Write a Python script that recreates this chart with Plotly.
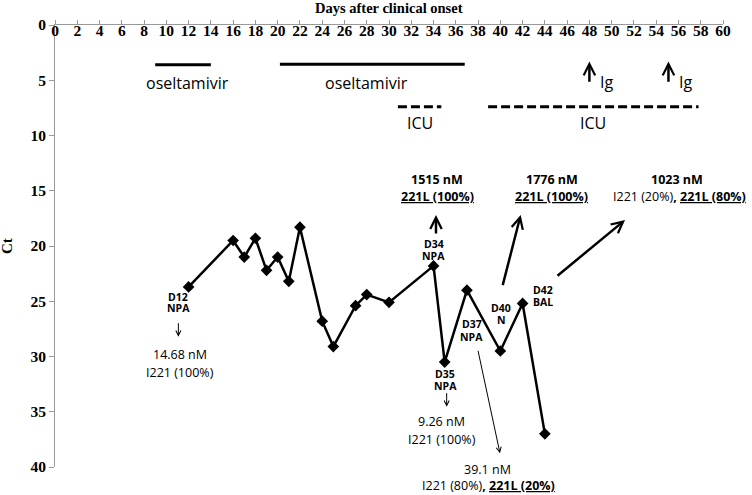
import plotly.graph_objects as go

# ---- data ----
days = [12, 16, 17, 18, 19, 20, 21, 22, 24, 25, 27, 28, 30, 34, 35, 37, 40, 42, 44]
ct = [23.7, 19.5, 21.0, 19.3, 22.2, 21.0, 23.2, 18.3, 26.8, 29.1, 25.4, 24.4, 25.1,
      21.8, 30.5, 24.0, 29.5, 25.2, 37.0]

x_ticks = list(range(0, 61, 2))
y_ticks = list(range(0, 41, 5))

# treatment periods (start day, end day, level on Ct scale)
oseltamivir_periods = [(9.0, 14.0, 3.6), (20.2, 36.8, 3.56)]
icu_periods = [(30.8, 34.7, 7.4), (38.9, 57.8, 7.4)]
ig_days = [48.0, 55.1]

SANS = "Open Sans"
SERIF = "Liberation Serif"

fig = go.Figure()

fig.add_trace(go.Scatter(
    x=days, y=ct, mode="lines+markers",
    line=dict(color="black", width=2.5),
    marker=dict(symbol="diamond", size=9, color="black"),
    showlegend=False, hoverinfo="skip", cliponaxis=False,
))

shapes = []
for s, e, lv in oseltamivir_periods:
    shapes.append(dict(type="line", xref="x", yref="y", x0=s, x1=e, y0=lv, y1=lv,
                       line=dict(color="black", width=3)))
for s, e, lv in icu_periods:
    shapes.append(dict(type="line", xref="x", yref="y", x0=s, x1=e, y0=lv, y1=lv,
                       line=dict(color="black", width=3, dash="9px,4px")))

ann = []


def txt(x, y, text, size=12.5, bold=False, family=SANS, yshift=0):
    t = f"<b>{text}</b>" if bold else text
    ann.append(dict(x=x, y=y, xref="x", yref="y", text=t, showarrow=False, yshift=yshift,
                    font=dict(family=family, size=size, color="black"),
                    xanchor="center", yanchor="middle"))


def arrow(x0, y0, x1, y1, width=1, head=5, size=1.0):
    ann.append(dict(x=x1, y=y1, ax=x0, ay=y0, xref="x", yref="y", axref="x", ayref="y",
                    text="", showarrow=True, arrowhead=head, arrowsize=size,
                    arrowwidth=width, arrowcolor="black", standoff=0, startstandoff=0))


SMALL = 10.5

# treatment labels
txt(11.9, 5.28, "oseltamivir", size=16)
txt(28.0, 5.25, "oseltamivir", size=16)
txt(32.8, 8.84, "ICU", size=16)
txt(48.35, 8.84, "ICU", size=16)
for d in ig_days:
    arrow(d, 5.28, d, 3.3, width=2.5, head=5, size=0.9)
txt(49.5, 5.13, "Ig", size=16)
txt(56.6, 5.13, "Ig", size=16)

# sample labels
txt(11.08, 24.59, "D12", size=SMALL, bold=True)
txt(11.08, 25.64, "NPA", size=SMALL, bold=True)
arrow(11.08, 26.85, 11.08, 28.21, width=1)
txt(11.23, 29.86, "14.68 nM")
txt(11.23, 31.43, "I221 (100%)")

txt(34.04, 19.8, "D34", size=SMALL, bold=True)
txt(34.04, 20.9, "NPA", size=SMALL, bold=True)
arrow(34.22, 19.0, 34.22, 17.2, width=2.5, size=0.9)
txt(34.34, 13.96, "1515 nM", bold=True)
txt(34.34, 15.54, "<u>221L (100%)</u>", bold=True)

txt(35.03, 31.58, "D35", size=SMALL, bold=True)
txt(35.03, 32.64, "NPA", size=SMALL, bold=True)
arrow(35.18, 33.18, 35.18, 34.54, width=1)
txt(34.76, 35.9, "9.26 nM")
txt(34.76, 37.49, "I221 (100%)")

txt(37.43, 27.09, "D37", size=SMALL, bold=True)
txt(37.43, 28.2, "NPA", size=SMALL, bold=True)
arrow(37.97, 29.35, 39.97, 38.76, width=1)
# these sit just below the bottom of the Ct range: anchor at 40 and shift in pixels
txt(38.83, 40, "39.1 nM", yshift=-2.5)
txt(38.9, 40, "I221 (80%)<b>, <u>221L (20%)</u></b>", yshift=-18.5)

txt(40.06, 25.6, "D40", size=SMALL, bold=True)
txt(40.06, 26.7, "N", size=SMALL, bold=True)
arrow(40.18, 23.68, 41.83, 17.19, width=2.5, size=0.9)
txt(44.6, 13.94, "1776 nM", bold=True)
txt(44.6, 15.54, "<u>221L (100%)</u>", bold=True)

txt(43.8, 23.98, "D42", size=SMALL, bold=True)
txt(43.8, 25.04, "BAL", size=SMALL, bold=True)
arrow(45.0, 22.8, 51.2, 17.65, width=2.5, size=0.9)
txt(55.84, 13.94, "1023 nM", bold=True)
txt(56.05, 15.54, "I221 (20%)<b>, <u>221L (80%)</u></b>")

# axis titles
ann.append(dict(x=0.5, y=1, xref="paper", yref="paper", yshift=17, text="<b>Days after clinical onset</b>",
                showarrow=False, font=dict(family=SERIF, size=14.5, color="black"),
                xanchor="center", yanchor="middle"))
ann.append(dict(x=0, y=0.5, xref="paper", yref="paper", xshift=-48, text="<b>Ct</b>", textangle=-90,
                showarrow=False, font=dict(family=SERIF, size=15, color="black"),
                xanchor="center", yanchor="middle"))

fig.update_layout(
    width=752, height=495,
    margin=dict(l=55, r=29, t=25, b=28, autoexpand=False),
    paper_bgcolor="white", plot_bgcolor="white",
    shapes=shapes, annotations=ann, showlegend=False,
    xaxis=dict(range=[0, 60], side="top", tickvals=x_ticks, ticktext=[str(v) for v in x_ticks],
               ticks="outside", ticklen=4, tickcolor="#999999", ticklabelposition="inside",
               ticklabeloverflow="allow", automargin=False,
               showline=True, linecolor="#999999", linewidth=1, showgrid=False, zeroline=False,
               tickfont=dict(family=SERIF, size=15.5, color="black", weight="bold")),
    yaxis=dict(range=[40, 0], tickvals=y_ticks, ticktext=[str(v) for v in y_ticks],
               ticks="outside", ticklen=5, tickcolor="#999999", automargin=False,
               ticklabeloverflow="allow",
               showline=True, linecolor="#999999", linewidth=1, showgrid=False, zeroline=False,
               tickfont=dict(family=SERIF, size=15.5, color="black", weight="bold")),
)

fig.write_html("out.html", config={"displayModeBar": False},
               post_script="document.body.style.margin='0';")
